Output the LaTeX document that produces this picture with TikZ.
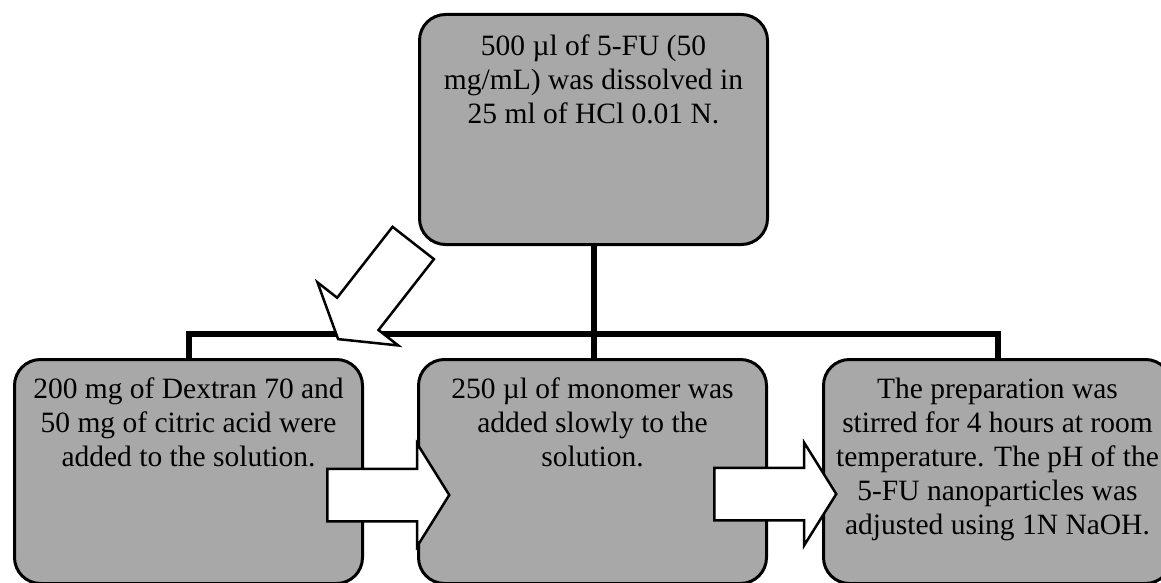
\documentclass[tikz,border=0pt]{standalone}
\usepackage{fontspec}
\setmainfont{Liberation Serif}
\usetikzlibrary{shapes.arrows}
\definecolor{boxgray}{RGB}{168,168,168}
\newcommand{\boxfont}{\fontsize{29.5}{34}\selectfont}
\newcommand{\steptext}[3]{\parbox[t][#1][t]{334pt}{\centering\rule{0pt}{#2}#3}}

\begin{document}
\begin{tikzpicture}[
    x=1pt, y=-1pt,
    stepbox/.style={rectangle, draw, line width=3pt, fill=boxgray, rounded corners=26pt, inner xsep=7pt, inner ysep=0pt, anchor=north west, font=\boxfont},
    link/.style={line width=6pt},
    blockarrow/.style={single arrow, draw, line width=2.5pt, fill=white, minimum height=122pt, minimum width=100pt, single arrow head extend=25pt, single arrow tip angle=116, inner xsep=0pt, inner ysep=25pt, anchor=tail}
]
\useasboundingbox (0,0) rectangle (1161,583);

% Steps
\node[stepbox] (dissolve) at (418,13) {\steptext{230pt}{41pt}{500 µl of 5-FU (50\\ mg/mL) was dissolved in\\ 25 ml of HCl 0.01 N.}};
\node[stepbox] (dextran) at (13,358) {\steptext{224pt}{39pt}{200 mg of Dextran 70 and\\ 50 mg of citric acid were\\ added to the solution.}};
\node[stepbox] (monomer) at (417,358) {\steptext{224pt}{39pt}{250 µl of monomer was\\ added slowly to the\\ solution.}};
\node[stepbox] (stir) at (822,358) {\steptext{224pt}{39pt}{The preparation was\\ stirred for 4 hours at room\\ temperature. The pH of the\\ 5-FU nanoparticles was\\ adjusted using 1N NaOH.}};

% Tree lines
\coordinate (hub) at (592,334);
\draw[link] (dissolve.south) -- (dissolve.south |- monomer.north);
\draw[link] (dextran.north) |- (hub) -| (stir.north);

% Block arrows
\node[blockarrow, rotate=232] (intodex) at (414,242) {};
\node[blockarrow] (tomono) at (326,495) {};
\node[blockarrow] (tostir) at (713,494) {};
\end{tikzpicture}
\end{document}
